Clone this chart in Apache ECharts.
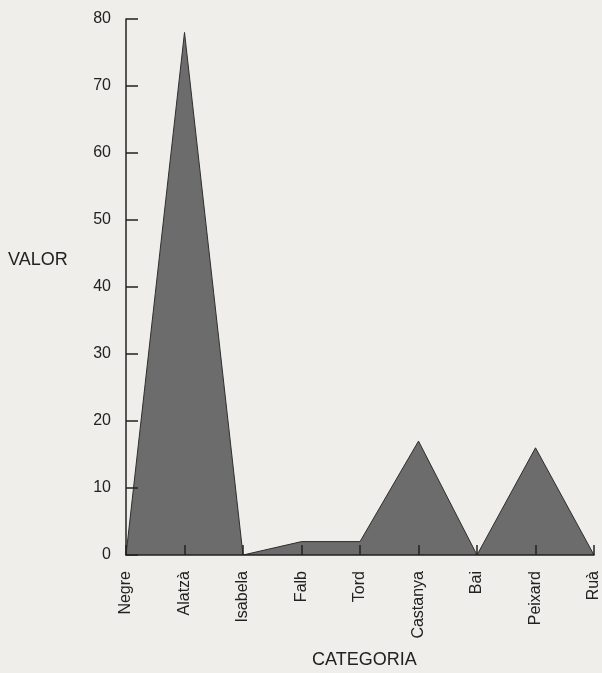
<!DOCTYPE html>
<html>
<head>
<meta charset="utf-8">
<script src="https://cdn.jsdelivr.net/npm/echarts@6/dist/echarts.min.js"></script>
<style>
html,body{margin:0;padding:0;background:#efeeea;}
#chart{width:602px;height:673px;}
</style>
</head>
<body>
<div id="chart"></div>
<script>
const categories = ['Negre', 'Alatzà', 'Isabela', 'Falb', 'Tord', 'Castanya', 'Bai', 'Peixard', 'Ruà'];
const values = [0, 78, 0, 2, 2, 17, 0, 16, 0];
const yTicks = { min: 0, max: 80, interval: 10 };
const yTitle = 'VALOR';
const xTitle = 'CATEGORIA';

const font = '"Liberation Sans", Arial, Helvetica, sans-serif';
const chart = echarts.init(document.getElementById('chart'));
chart.setOption({
  backgroundColor: '#efeeea',
  animation: false,
  grid: { left: 126, right: 7, top: 19, bottom: 118, containLabel: false },
  xAxis: {
    type: 'category',
    z: 10,
    data: categories,
    boundaryGap: false,
    axisLine: { lineStyle: { color: '#222', width: 1.5 } },
    axisTick: { inside: true, length: 10, lineStyle: { color: '#222', width: 1.5 } },
    axisLabel: { rotate: 90, margin: 16, color: '#222', fontSize: 16, fontFamily: font, interval: 0 }
  },
  yAxis: {
    type: 'value',
    z: 10,
    min: yTicks.min, max: yTicks.max, interval: yTicks.interval,
    axisLine: { show: true, lineStyle: { color: '#222', width: 1.5 } },
    axisTick: { show: true, inside: true, length: 12, lineStyle: { color: '#222', width: 1.5 } },
    splitLine: { show: false },
    axisLabel: { margin: 15, color: '#222', fontSize: 16, fontFamily: font }
  },
  graphic: [
    { type: 'text', left: 8, top: 251, style: { text: yTitle, font: '18px ' + font, fill: '#222' } },
    { type: 'text', left: 312, top: 651, style: { text: xTitle, font: '18px ' + font, fill: '#222' } }
  ],
  series: [{
    type: 'line',
    data: values,
    symbol: 'none',
    lineStyle: { color: '#2e2e2e', width: 1 },
    areaStyle: { color: '#6c6c6c', opacity: 1 }
  }]
});
</script>
</body>
</html>
